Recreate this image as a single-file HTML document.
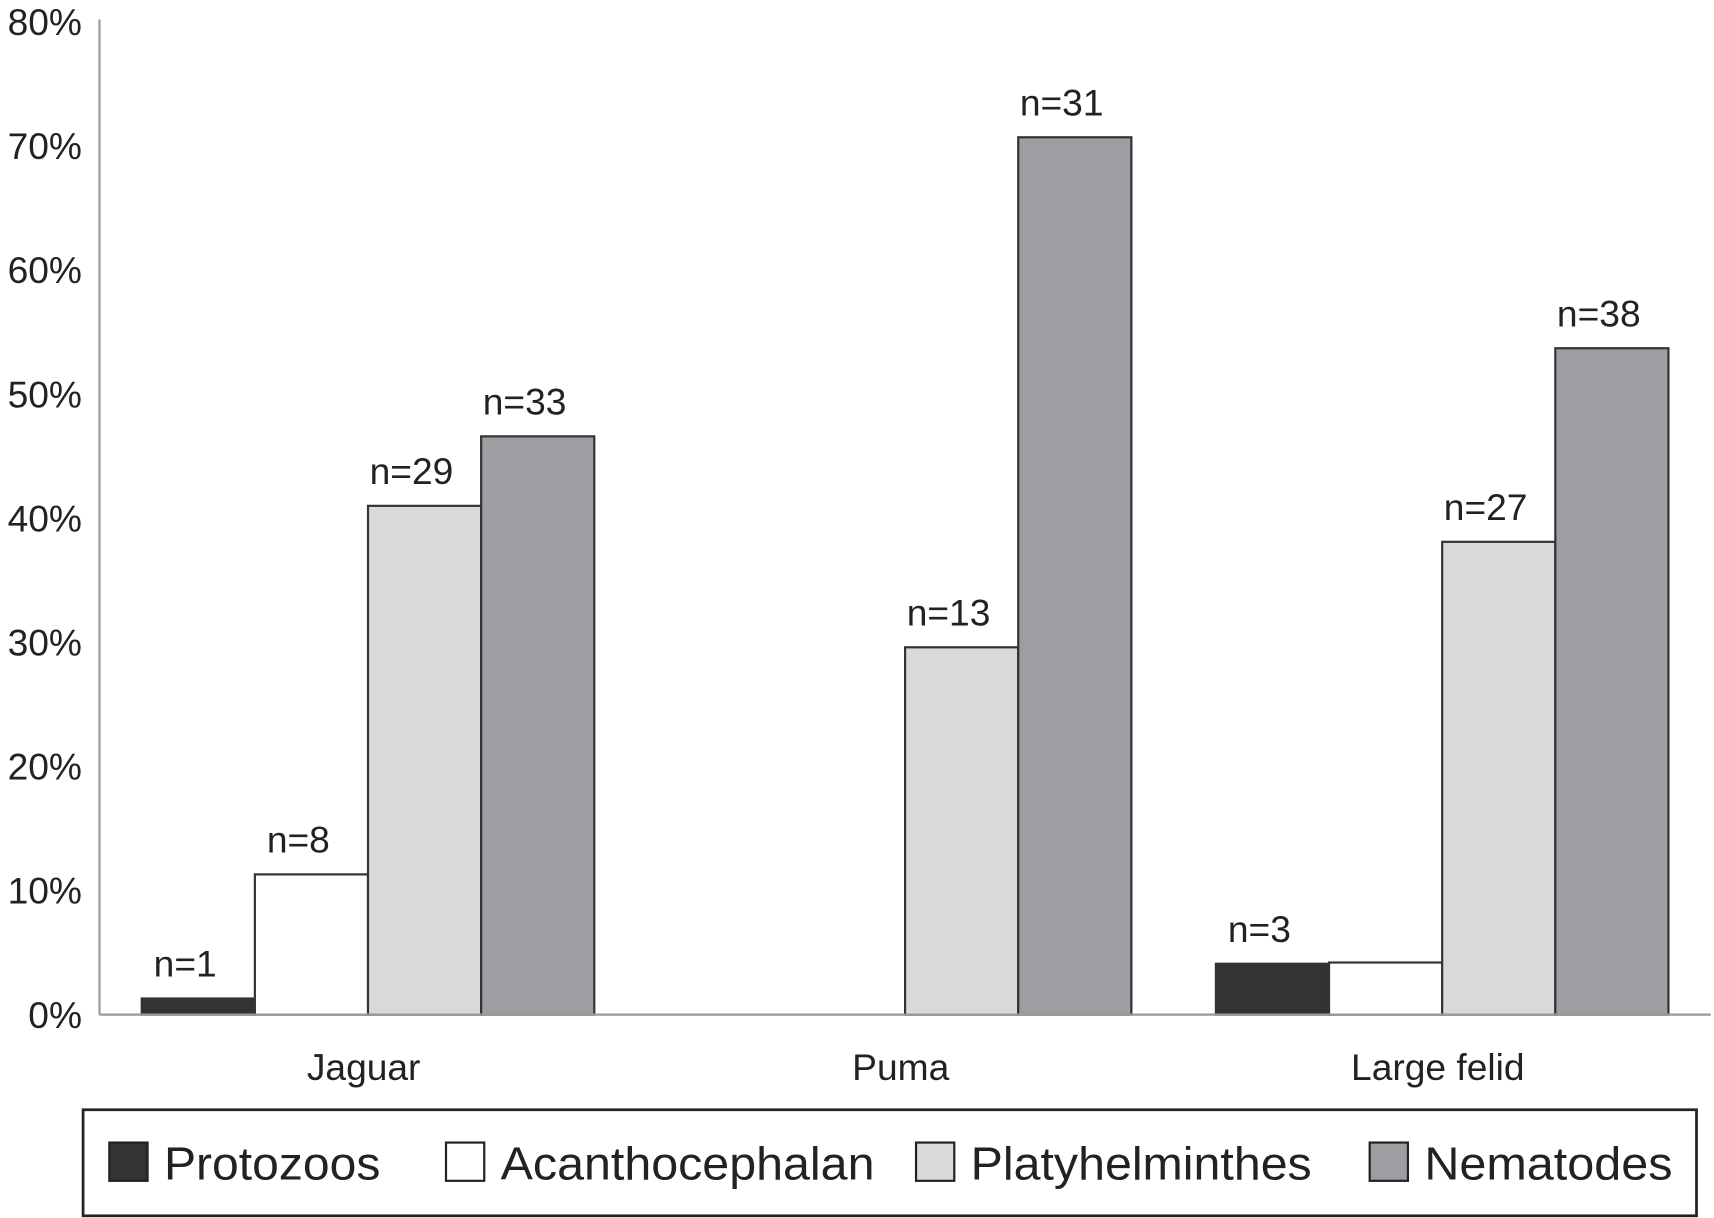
<!DOCTYPE html>
<html><head><meta charset="utf-8"><style>
html,body{margin:0;padding:0;background:#fff;}
svg{display:block;font-family:"Liberation Sans",Arial,sans-serif;}
</style></head><body>
<svg id="chart" width="1714" height="1218" viewBox="0 0 1568 1114" preserveAspectRatio="none" xmlns="http://www.w3.org/2000/svg"></svg>
<script>
const categories = ["Jaguar", "Puma", "Large felid"];
const seriesNames = ["Protozoos", "Acanthocephalan", "Platyhelminthes", "Nematodes"];
const protozoos = [1.3, 0, 4.1];
const acanthocephalan = [11.3, 0, 4.2];
const platyhelminthes = [41.0, 29.6, 38.1];
const nematodes = [46.6, 70.7, 53.7];
const nProtozoos = ["n=1", "", "n=3"];
const nAcanth = ["n=8", "", ""];
const nPlaty = ["n=29", "n=13", "n=27"];
const nNema = ["n=33", "n=31", "n=38"];
const yTicks = [0, 10, 20, 30, 40, 50, 60, 70, 80];

const series = [protozoos, acanthocephalan, platyhelminthes, nematodes];
const labels = [nProtozoos, nAcanth, nPlaty, nNema];
const fills = ["#333333", "#ffffff", "#d8d9db", "#9d9ea2"];
const NS = "http://www.w3.org/2000/svg";
const svg = document.getElementById("chart");
const x0 = 91, x1 = 1565, y0 = 928, yTop = 20;
const yScale = v => y0 - (v / 80) * (y0 - yTop);
const groupW = (x1 - x0) / categories.length;
const barW = 103.5;
const groupX = i => x0 + groupW * i + (groupW - barW * 4) / 2;

function mk(tag, attrs, parent) {
  const el = document.createElementNS(NS, tag);
  for (const k in attrs) el.setAttribute(k, attrs[k]);
  (parent || svg).appendChild(el);
  return el;
}

const yAxis = mk("line", {x1: x0, y1: 18, x2: x0, y2: y0, stroke: "#999", "stroke-width": 2});


yTicks.forEach(t => {
  const tx = mk("text", {x: 75, y: yScale(t) + 12, "text-anchor": "end", "font-size": 34, fill: "#222"});
  tx.textContent = t + "%";
  
  
});

series.forEach((vals, s) => {
  vals.forEach((v, i) => {
    const bx = groupX(i) + s * barW;
    if (v > 0) {
      const r = mk("rect", {x: bx, y: yScale(v), width: barW, height: y0 - yScale(v), fill: fills[s], stroke: "#333", "stroke-width": 2});
      
      
    }
    if (labels[s][i]) {
      const t = mk("text", {x: bx + barW / 2 - 12, y: yScale(v) - 20, "text-anchor": "middle", "font-size": 34, fill: "#222"});
      t.textContent = labels[s][i];
      
      
    }
  });
});

const xAxis = mk("line", {x1: x0, y1: y0, x2: x1, y2: y0, stroke: "#999", "stroke-width": 2});


categories.forEach((c, i) => {
  const t = mk("text", {x: x0 + groupW * (i + 0.5) - 4, y: 988, "text-anchor": "middle", "font-size": 34, fill: "#222"});
  t.textContent = c;
  
  
});

const lg = mk("g", {});


mk("rect", {x: 76, y: 1015, width: 1476, height: 97, fill: "#fff", stroke: "#222", "stroke-width": 2.5}, lg);
const legX = [100, 408, 838, 1253];
const legLen = [198, 342, 312, 227];
seriesNames.forEach((n, s) => {
  const sw = mk("rect", {x: legX[s], y: 1045, width: 35, height: 35, fill: fills[s], stroke: "#222", "stroke-width": 2}, lg);
  
  
  const t = mk("text", {x: legX[s] + 50, y: 1079, "font-size": 42, fill: "#222", textLength: legLen[s], lengthAdjust: "spacingAndGlyphs"}, lg);
  t.textContent = n;
  
  
});
</script>
</body></html>
